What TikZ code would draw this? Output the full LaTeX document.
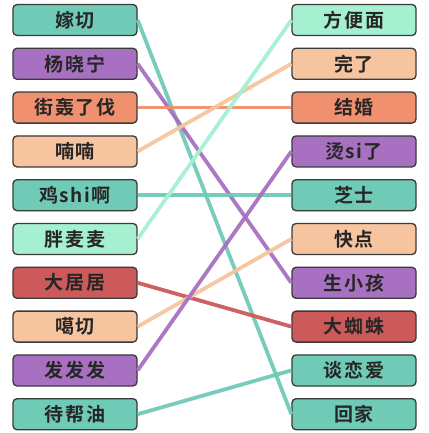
\documentclass[tikz,border=0pt]{standalone}
\usepackage{fontspec}
\usepackage{xcolor}
\newfontfamily\cjk[LetterSpace=8]{Noto Sans CJK SC Bold}

\definecolor{tealbox}{HTML}{70CBB6}
\definecolor{mintbox}{HTML}{A6F0D2}
\definecolor{purplebox}{HTML}{A870C0}
\definecolor{salmonbox}{HTML}{F1906E}
\definecolor{peachbox}{HTML}{F6C49E}
\definecolor{redbox}{HTML}{CC5A5A}
\definecolor{boxedge}{HTML}{3A3A3A}

\begin{document}
\begin{tikzpicture}[x = 1pt, y = -1pt,
						word/.style = {draw = boxedge, line width = 1.3pt, rounded corners = 4pt,
							minimum width = 124pt, minimum height = 31pt, inner sep = 0pt,
							font = \cjk\fontsize{19}{19}\selectfont, text = black!85},
						link/.style = {line width = 3.8pt, opacity = 0.95},
						]
	
		% Canvas
		\useasboundingbox (0, 0) rectangle (428, 433);
		\fill[white] (0, 0) rectangle (428, 433);
		
		% Left column
		\node[word, fill = tealbox] (l1) at (75, 20) {嫁切};
		\node[word, fill = purplebox] (l2) at (75, 63.8) {杨晓宁};
		\node[word, fill = salmonbox] (l3) at (75, 107.6) {街轰了伐};
		\node[word, fill = peachbox] (l4) at (75, 151.4) {喃喃};
		\node[word, fill = tealbox] (l5) at (75, 195.2) {鸡shi啊};
		\node[word, fill = mintbox] (l6) at (75, 239) {胖麦麦};
		\node[word, fill = redbox] (l7) at (75, 282.8) {大居居};
		\node[word, fill = peachbox] (l8) at (75, 326.6) {噶切};
		\node[word, fill = purplebox] (l9) at (75, 370.4) {发发发};
		\node[word, fill = tealbox] (l10) at (75, 414.2) {待帮油};
		
		% Right column
		\node[word, fill = mintbox] (r1) at (354, 20) {方便面};
		\node[word, fill = peachbox] (r2) at (354, 63.8) {完了};
		\node[word, fill = salmonbox] (r3) at (354, 107.6) {结婚};
		\node[word, fill = purplebox] (r4) at (354, 151.4) {烫si了};
		\node[word, fill = tealbox] (r5) at (354, 195.2) {芝士};
		\node[word, fill = peachbox] (r6) at (354, 239) {快点};
		\node[word, fill = purplebox] (r7) at (354, 282.8) {生小孩};
		\node[word, fill = redbox] (r8) at (354, 326.6) {大蜘蛛};
		\node[word, fill = tealbox] (r9) at (354, 370.4) {谈恋爱};
		\node[word, fill = tealbox] (r10) at (354, 414.2) {回家};
		
		% Matching lines
		\draw[link, tealbox] (l1.east) -- (r10.west);
		\draw[link, purplebox] (l2.east) -- (r7.west);
		\draw[link, salmonbox] (l3.east) -- (r3.west);
		\draw[link, peachbox] (l4.east) -- (r2.west);
		\draw[link, tealbox] (l5.east) -- (r5.west);
		\draw[link, mintbox] (l6.east) -- (r1.west);
		\draw[link, redbox] (l7.east) -- (r8.west);
		\draw[link, peachbox] (l8.east) -- (r6.west);
		\draw[link, purplebox] (l9.east) -- (r4.west);
		\draw[link, tealbox] (l10.east) -- (r9.west);
		
	\end{tikzpicture}
\end{document}
